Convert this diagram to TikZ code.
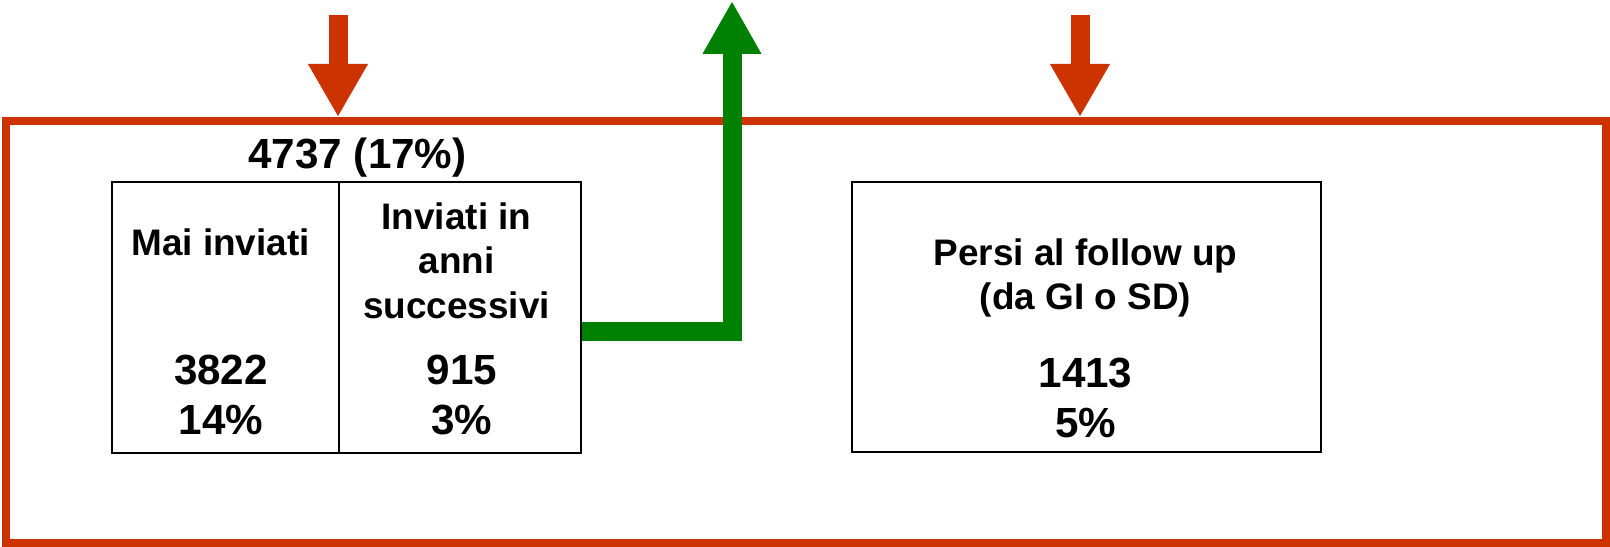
\documentclass[tikz,border=0pt]{standalone}
\usepackage{fontspec}
\setmainfont{Liberation Sans}
\usetikzlibrary{arrows.meta}
\definecolor{framered}{RGB}{204,51,0}
\definecolor{flowgreen}{RGB}{0,128,0}

\begin{document}
\begin{tikzpicture}[font=\bfseries,
	cell/.style={draw,rectangle,line width=1.1pt,minimum height=5.42cm,inner sep=0pt},
	celltext/.style={anchor=north,align=center,inner sep=0pt,font=\fontsize{21}{25.5}\selectfont\bfseries},
	cellcount/.style={anchor=north,align=center,inner sep=0pt,font=\fontsize{24}{28.4}\selectfont\bfseries},
	inflow/.style={framered,line width=0.38cm,-{Triangle[width=1.12cm,length=1.06cm]}},
	outflow/.style={flowgreen,line width=0.38cm,-{Triangle[width=1.1cm,length=1.06cm]}}]
		\useasboundingbox (0,0) rectangle (32.2,10.94);

		% draw red frame
		\node (frame) at (16.12,4.30) [draw=framered,line width=0.16cm,minimum width=32cm,minimum height=8.44cm,inner sep=0pt] {};

		% draw cells
		\node (mai) at (4.51,4.59) [cell,minimum width=4.54cm] {};
		\node (succ) at (9.20,4.59) [cell,minimum width=4.84cm] {};
		\node (persi) at (21.73,4.60) [cell,minimum width=9.38cm,minimum height=5.40cm] {};

		% total above the left cells
		\node (total) at (7.15,8.18) [cellcount] {4737 (17\%)};

		% texts in the cells
		\node (maitext) at (4.41,6.38) [celltext] {Mai inviati};
		\node (succtext) at (9.13,6.90) [celltext] {Inviati in\\anni\\successivi};
		\node (persitext) at (21.71,6.18) [celltext] {Persi al follow up\\(da GI o SD)};

		% numbers in the cells
		\node (maicount) at (4.42,3.84) [cellcount] {3822\\14\%};
		\node (succcount) at (9.24,3.84) [cellcount] {915\\3\%};
		\node (persicount) at (21.71,3.78) [cellcount] {1413\\5\%};

		% draw arrows into the frame
		\coordinate (in1) at (6.76,10.64);
		\coordinate (in2) at (21.6,10.64);
		\draw[inflow] (in1) -- (in1 |- frame.north);
		\draw[inflow] (in2) -- (in2 |- frame.north);

		% draw green arrow out of the frame
		\coordinate (out) at (14.64,10.92);
		\draw[outflow] ([yshift=-0.29cm]succ.east) -| (out);
	\end{tikzpicture}
\end{document}
